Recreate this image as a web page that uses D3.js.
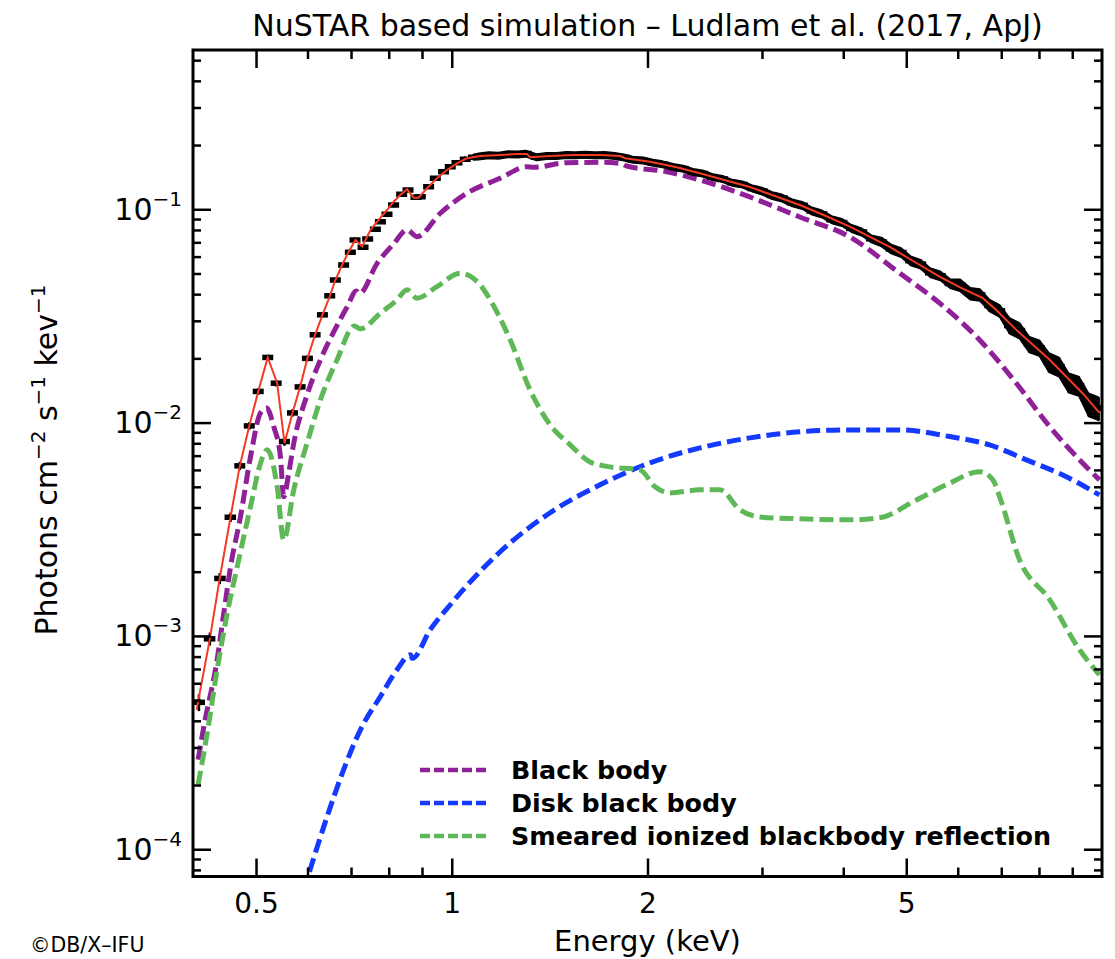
<!DOCTYPE html>
<html>
<head>
<meta charset="utf-8">
<script src="https://cdn.jsdelivr.net/npm/d3@7"></script>
<style>
  body { margin: 0; background: #fff; }
  svg { display: block; }
  text { font-family: "DejaVu Sans", sans-serif; fill: #000; }
</style>
</head>
<body>
<svg id="chart" width="1115" height="959"></svg>
<script>
// ---- text ----
const chartTitle = "NuSTAR based simulation \u2013 Ludlam et al. (2017, ApJ)";
const xAxisTitle = "Energy (keV)";
const credit = "\u00A9DB/X\u2013IFU";

// ---- axis ticks ----
const xTickValues = [0.5, 1, 2, 5];
const xTickLabels = ["0.5", "1", "2", "5"];
const yTickValues = [1e-1, 1e-2, 1e-3, 1e-4];
const yTickExponents = ["\u22121", "\u22122", "\u22123", "\u22124"];

// ---- legend ----
const legendLabels = ["Black body", "Disk black body", "Smeared ionized blackbody reflection"];
const componentColors = ["#8f2097", "#1439ff", "#5fb857"];

// ---- simulated spectrum: energy (keV), flux (photons cm^-2 s^-1 keV^-1), fractional error ----
const dataE = [
  0.4085, 0.4246, 0.4397, 0.4569, 0.4721, 0.4882, 0.5039, 0.5212, 0.5370, 0.5529,
  0.5689, 0.5845, 0.5998, 0.6164, 0.6326, 0.6491, 0.6622, 0.6819, 0.6983, 0.7100,
  0.7304, 0.7425, 0.7631, 0.7767, 0.7951, 0.8139, 0.8374, 0.8565, 0.8810, 0.8945,
  0.9213, 0.9434, 0.9714, 0.9947, 1.0186, 1.0489, 1.0800,
  1.10, 1.14, 1.18, 1.22, 1.26, 1.30, 1.35, 1.40, 1.45, 1.50, 1.55, 1.60, 1.66, 1.72,
  1.78, 1.84, 1.90, 1.97, 2.04, 2.11, 2.19, 2.27, 2.35, 2.43, 2.52, 2.61, 2.70, 2.80,
  2.90, 3.00, 3.11, 3.22, 3.34, 3.46, 3.58, 3.71, 3.84, 3.98, 4.12, 4.27, 4.42, 4.58,
  4.74, 4.91, 5.08, 5.26, 5.45, 5.64, 5.84, 6.05, 6.27, 6.49, 6.72, 6.96, 7.21, 7.47,
  7.73, 8.01, 8.29, 8.59, 8.89, 9.21, 9.54, 9.88
];
const dataF = [
  0.000488, 0.000969, 0.00186, 0.00360, 0.00627, 0.00965, 0.0140, 0.0202, 0.0153, 0.00815,
  0.0111, 0.0147, 0.0200, 0.0258, 0.0320, 0.0393, 0.0466, 0.0548, 0.0629, 0.0718,
  0.0664, 0.0726, 0.0806, 0.0875, 0.0947, 0.1047, 0.1176, 0.1231, 0.1138, 0.1146,
  0.1276, 0.1397, 0.1500, 0.1583, 0.1653, 0.1715, 0.1753,
  0.1768, 0.1793, 0.1785, 0.1812, 0.1808, 0.1824, 0.1754, 0.1777, 0.1779, 0.1796, 0.1791, 0.1802, 0.1791, 0.1798,
  0.1777, 0.1749, 0.1706, 0.1693, 0.1653, 0.1625, 0.1580, 0.1551, 0.1495, 0.1471, 0.1414, 0.1387, 0.1331, 0.1307,
  0.1252, 0.1218, 0.1159, 0.1130, 0.1072, 0.1043, 0.0982, 0.0951, 0.0894, 0.0868, 0.0813, 0.0783, 0.0727, 0.0703,
  0.0652, 0.0627, 0.0574, 0.0553, 0.0504, 0.0488, 0.0449, 0.0441, 0.0403, 0.0397, 0.0354, 0.0334, 0.0285, 0.0270,
  0.0233, 0.0224, 0.0192, 0.0183, 0.0154, 0.0149, 0.0122, 0.0117
];
const dataErr = [
  0.09, 0.07, 0.06, 0.05, 0.045, 0.04, 0.035, 0.03, 0.035, 0.045,
  0.04, 0.035, 0.03, 0.03, 0.025, 0.025, 0.025, 0.025, 0.025, 0.025,
  0.025, 0.025, 0.025, 0.025, 0.025, 0.025, 0.025, 0.025, 0.025, 0.025,
  0.025, 0.025, 0.025, 0.025, 0.025, 0.03, 0.03,
  0.035, 0.035, 0.035, 0.035, 0.035, 0.035, 0.035, 0.035, 0.035, 0.035, 0.035, 0.035, 0.035, 0.035,
  0.035, 0.035, 0.035, 0.035, 0.035, 0.035, 0.035, 0.035, 0.035, 0.035, 0.035, 0.035, 0.035, 0.035,
  0.035, 0.04, 0.04, 0.04, 0.04, 0.04, 0.04, 0.04, 0.04, 0.04, 0.04, 0.04, 0.04, 0.05,
  0.05, 0.05, 0.05, 0.05, 0.05, 0.05, 0.05, 0.065, 0.065, 0.065, 0.065, 0.065, 0.085, 0.085,
  0.085, 0.085, 0.105, 0.105, 0.105, 0.105, 0.125, 0.125
];

// ---- total model ----
const modelE = [
  0.4051, 0.4246, 0.4397, 0.4569, 0.4721, 0.4882, 0.5039, 0.5212, 0.5389, 0.5531,
  0.5689, 0.5845, 0.5998, 0.6164, 0.6326, 0.6491, 0.6622, 0.6782, 0.6943, 0.7110,
  0.7282, 0.7498, 0.7720, 0.7951, 0.8139, 0.8335, 0.8536, 0.8736, 0.8891, 0.9160,
  0.9491, 0.9831, 1.0186, 1.0551, 1.106, 1.187, 1.259, 1.305, 1.320, 1.417,
  1.539, 1.691, 1.815, 1.848, 2.018, 2.218, 2.408, 2.874, 3.140, 3.430,
  3.747, 4.094, 4.716, 5.152, 5.628, 6.041, 6.559, 6.877, 7.383, 8.307, 9.343, 9.911
];
const modelF = [
  0.000450, 0.000969, 0.00186, 0.00361, 0.00627, 0.00965, 0.0140, 0.0202, 0.0153, 0.00801,
  0.0111, 0.0147, 0.0200, 0.0258, 0.0320, 0.0390, 0.0466, 0.0548, 0.0633, 0.0718,
  0.0668, 0.0800, 0.0891, 0.0992, 0.1085, 0.1167, 0.1241, 0.1133, 0.1133, 0.1254,
  0.1397, 0.1528, 0.1642, 0.1734, 0.1777, 0.1797, 0.1816, 0.1816, 0.1753, 0.1777,
  0.1797, 0.1797, 0.1777, 0.1734, 0.1671, 0.1573, 0.1474, 0.1272, 0.1154, 0.1047,
  0.0935, 0.0829, 0.0666, 0.0566, 0.0483, 0.0432, 0.0383, 0.0337, 0.0272, 0.0197, 0.0137, 0.0111
];

// ---- model components ----
const bbE = [
  0.4073, 0.4157, 0.4357, 0.4461, 0.4569, 0.4733, 0.4904, 0.5080, 0.5189, 0.5324,
  0.5451, 0.5515, 0.5614, 0.5715, 0.5991, 0.6281, 0.6583, 0.6902, 0.7135, 0.7210,
  0.7677, 0.8139, 0.8536, 0.8841, 0.9601, 1.0551, 1.187, 1.305, 1.336, 1.503,
  1.691, 1.815, 1.858, 2.141, 2.408, 2.874, 3.430, 4.094, 4.887, 5.628,
  6.559, 7.383, 8.307, 9.343, 9.911
];
const bbF = [
  0.000263, 0.000376, 0.000773, 0.00128, 0.00211, 0.00363, 0.00693, 0.0111, 0.0117, 0.00958,
  0.00693, 0.00449, 0.00579, 0.00801, 0.01348, 0.0197, 0.0266, 0.0348, 0.0414, 0.0403,
  0.0558, 0.0688, 0.0800, 0.0744, 0.0958, 0.1189, 0.1397, 0.1583, 0.1572, 0.1653,
  0.1660, 0.1642, 0.1595, 0.1500, 0.1372, 0.1142, 0.0920, 0.0742, 0.0501, 0.0363,
  0.0235, 0.0153, 0.00958, 0.00645, 0.00539
];

const diskE = [
  0.6041, 0.6430, 0.6819, 0.7236, 0.7767, 0.8237, 0.8636, 0.8695, 0.9268, 0.9947,
  1.187, 1.417, 1.691, 2.018, 2.408, 2.874, 3.430, 4.094, 4.887, 5.832,
  6.716, 7.649, 8.810, 9.911
];
const diskF = [
  0.0000785, 0.000142, 0.000236, 0.000363, 0.000520, 0.000694, 0.000815, 0.000785, 0.00107, 0.00140,
  0.00248, 0.00378, 0.00511, 0.00648, 0.00761, 0.00848, 0.00905, 0.00924, 0.00924, 0.00860,
  0.00786, 0.00669, 0.00558, 0.00458
];

const reflE = [
  0.4073, 0.4207, 0.4357, 0.4516, 0.4678, 0.4904, 0.5080, 0.5201, 0.5389, 0.5515,
  0.5715, 0.5991, 0.6281, 0.6663, 0.7084, 0.7236, 0.7767, 0.8237, 0.8536, 0.8841,
  0.9491, 1.0306, 1.106, 1.146, 1.230, 1.320, 1.417, 1.521, 1.632, 1.752,
  1.948, 2.054, 2.166, 2.408, 2.585, 2.775, 2.978, 3.430, 4.094, 4.552,
  5.184, 5.832, 6.483, 6.795, 6.958, 7.470, 8.307, 9.236, 9.911
];
const reflF = [
  0.000201, 0.000350, 0.000694, 0.00128, 0.00211, 0.00404, 0.00645, 0.00745, 0.00501, 0.00282,
  0.00484, 0.00801, 0.0128, 0.0197, 0.0284, 0.0275, 0.0326, 0.0376, 0.0419, 0.0383,
  0.0434, 0.0501, 0.0442, 0.0376, 0.0244, 0.0142, 0.00975, 0.00786, 0.00654, 0.00620,
  0.00600, 0.00500, 0.00468, 0.00484, 0.00484, 0.00390, 0.00361, 0.00354, 0.00350, 0.00358,
  0.00434, 0.00520, 0.00589, 0.00539, 0.00450, 0.00227, 0.00148, 0.000861, 0.000657
];

// ---- layout ----
const plot = { left: 193, right: 1102, top: 50, bottom: 876.5 };
const denseFrom = 1.08; // above this energy the bins are contiguous

const svg = d3.select("#chart");

const x = d3.scaleLog().domain([0.4, 10]).range([plot.left, plot.right]);
const y = d3.scaleLog().domain([7.45e-5, 0.558]).range([plot.bottom, plot.top]);

svg.append("defs").append("clipPath").attr("id", "plot-clip")
  .append("rect")
  .attr("x", plot.left).attr("y", plot.top)
  .attr("width", plot.right - plot.left).attr("height", plot.bottom - plot.top);

const area = svg.append("g").attr("clip-path", "url(#plot-clip)");

// dashed model components
const compLine = d3.line()
  .x(d => x(d[0])).y(d => y(d[1]))
  .curve(d3.curveMonotoneX);

const components = [
  d3.zip(bbE, bbF),
  d3.zip(diskE, diskF),
  d3.zip(reflE, reflF)
];
components.forEach((pts, i) => {
  area.append("path")
    .datum(pts)
    .attr("d", compLine)
    .attr("fill", "none")
    .attr("stroke", componentColors[i])
    .attr("stroke-width", 5)
    .attr("stroke-dasharray", "14,6");
});

// data: error envelope where the bins are contiguous
const spectrum = d3.range(dataE.length).map(i => ({ e: dataE[i], f: dataF[i], err: dataErr[i] }));
area.append("path")
  .datum(spectrum.filter(d => d.e >= denseFrom))
  .attr("d", d3.area()
    .x(d => x(d.e))
    .y0(d => y(d.f * (1 - d.err)))
    .y1(d => y(d.f * (1 + d.err))))
  .attr("fill", "#000")
  .attr("stroke", "#000")
  .attr("stroke-width", 1.5)
  .attr("stroke-linejoin", "round");

// data: bin bars with vertical error bars
const px = dataE.map(e => x(e));
const dataG = area.append("g");
spectrum.forEach((d, i) => {
  const cx = px[i];
  const cy = y(d.f);
  const lh = i > 0 ? Math.max(5.5, (cx - px[i - 1]) / 2 + 0.6) : 5.5;
  const rh = i < dataE.length - 1 ? Math.max(5.5, (px[i + 1] - cx) / 2 + 0.6) : 5.5;
  dataG.append("line")
    .attr("x1", cx - lh).attr("x2", cx + rh)
    .attr("y1", cy).attr("y2", cy)
    .attr("stroke", "#000").attr("stroke-width", 5.5);
  dataG.append("line")
    .attr("x1", cx).attr("x2", cx)
    .attr("y1", y(d.f * (1 + d.err)))
    .attr("y2", y(d.f * (1 - d.err)))
    .attr("stroke", "#000").attr("stroke-width", 2.5);
});

// total model
area.append("path")
  .datum(d3.zip(modelE, modelF))
  .attr("d", d3.line().x(d => x(d[0])).y(d => y(d[1])))
  .attr("fill", "none")
  .attr("stroke", "#f23a22")
  .attr("stroke-width", 2);

// ---- axes ----
const axisStyle = g => {
  g.select(".domain").remove();
  g.selectAll(".tick line").attr("stroke", "#000").attr("stroke-width", 2.5);
};

const xMinor = x.ticks().filter(v => !xTickValues.includes(v) && v > 0.41 && v < 9.9);
const yMinor = y.ticks().filter(v => Math.abs(Math.log10(v) - Math.round(Math.log10(v))) > 1e-6);

// bottom
svg.append("g")
  .attr("transform", `translate(0,${plot.bottom})`)
  .call(d3.axisBottom(x).tickValues(xTickValues).tickFormat((d, i) => xTickLabels[i])
    .tickSize(-18).tickPadding(17))
  .call(axisStyle)
  .call(g => g.selectAll("text").attr("font-size", 28).attr("font-family", "DejaVu Sans"));
svg.append("g")
  .attr("transform", `translate(0,${plot.bottom})`)
  .call(d3.axisBottom(x).tickValues(xMinor).tickFormat("").tickSize(-9))
  .call(axisStyle);
// top
svg.append("g")
  .attr("transform", `translate(0,${plot.top})`)
  .call(d3.axisTop(x).tickValues(xTickValues).tickFormat("").tickSize(-18))
  .call(axisStyle);
svg.append("g")
  .attr("transform", `translate(0,${plot.top})`)
  .call(d3.axisTop(x).tickValues(xMinor).tickFormat("").tickSize(-9))
  .call(axisStyle);
// left
svg.append("g")
  .attr("transform", `translate(${plot.left},0)`)
  .call(d3.axisLeft(y).tickValues(yTickValues).tickSize(-18).tickPadding(11))
  .call(axisStyle)
  .call(g => g.selectAll(".tick text").each(function (d, i) {
    const t = d3.select(this).text(null)
      .attr("font-size", 30).attr("font-family", "DejaVu Sans").attr("dy", "0.33em");
    t.append("tspan").text("10");
    t.append("tspan").attr("font-size", 20).attr("dy", -14).text(yTickExponents[i]);
  }));
svg.append("g")
  .attr("transform", `translate(${plot.left},0)`)
  .call(d3.axisLeft(y).tickValues(yMinor).tickFormat("").tickSize(-8))
  .call(axisStyle);
// right
svg.append("g")
  .attr("transform", `translate(${plot.right},0)`)
  .call(d3.axisRight(y).tickValues(yTickValues).tickFormat("").tickSize(-18))
  .call(axisStyle);
svg.append("g")
  .attr("transform", `translate(${plot.right},0)`)
  .call(d3.axisRight(y).tickValues(yMinor).tickFormat("").tickSize(-8))
  .call(axisStyle);

// frame
svg.append("rect")
  .attr("x", plot.left).attr("y", plot.top)
  .attr("width", plot.right - plot.left).attr("height", plot.bottom - plot.top)
  .attr("fill", "none").attr("stroke", "#000").attr("stroke-width", 3);

// ---- legend ----
const legend = svg.append("g");
legendLabels.forEach((label, i) => {
  const ly = 770 + i * 33;
  legend.append("line")
    .attr("x1", 420).attr("x2", 487).attr("y1", ly).attr("y2", ly)
    .attr("stroke", componentColors[i]).attr("stroke-width", 4.5)
    .attr("stroke-dasharray", "10,4");
  legend.append("text")
    .attr("x", 511).attr("y", ly + 9)
    .attr("font-size", 25.4).attr("font-weight", "bold")
    .text(label);
});

// ---- titles ----
const midX = (plot.left + plot.right) / 2;
svg.append("text")
  .attr("x", midX).attr("y", 36)
  .attr("text-anchor", "middle").attr("font-size", 30)
  .text(chartTitle);

svg.append("text")
  .attr("x", midX).attr("y", 951)
  .attr("text-anchor", "middle").attr("font-size", 29)
  .text(xAxisTitle);

const yTitle = svg.append("text")
  .attr("transform", "translate(57,460) rotate(-90)")
  .attr("text-anchor", "middle").attr("font-size", 30);
yTitle.append("tspan").text("Photons cm");
yTitle.append("tspan").attr("font-size", 20).attr("dy", -12).text("\u22122");
yTitle.append("tspan").attr("dy", 12).text(" s");
yTitle.append("tspan").attr("font-size", 20).attr("dy", -12).text("\u22121");
yTitle.append("tspan").attr("dy", 12).text(" kev");
yTitle.append("tspan").attr("font-size", 20).attr("dy", -12).text("\u22121");

svg.append("text")
  .attr("x", 30).attr("y", 952)
  .attr("font-size", 20.5)
  .text(credit);
</script>
</body>
</html>
